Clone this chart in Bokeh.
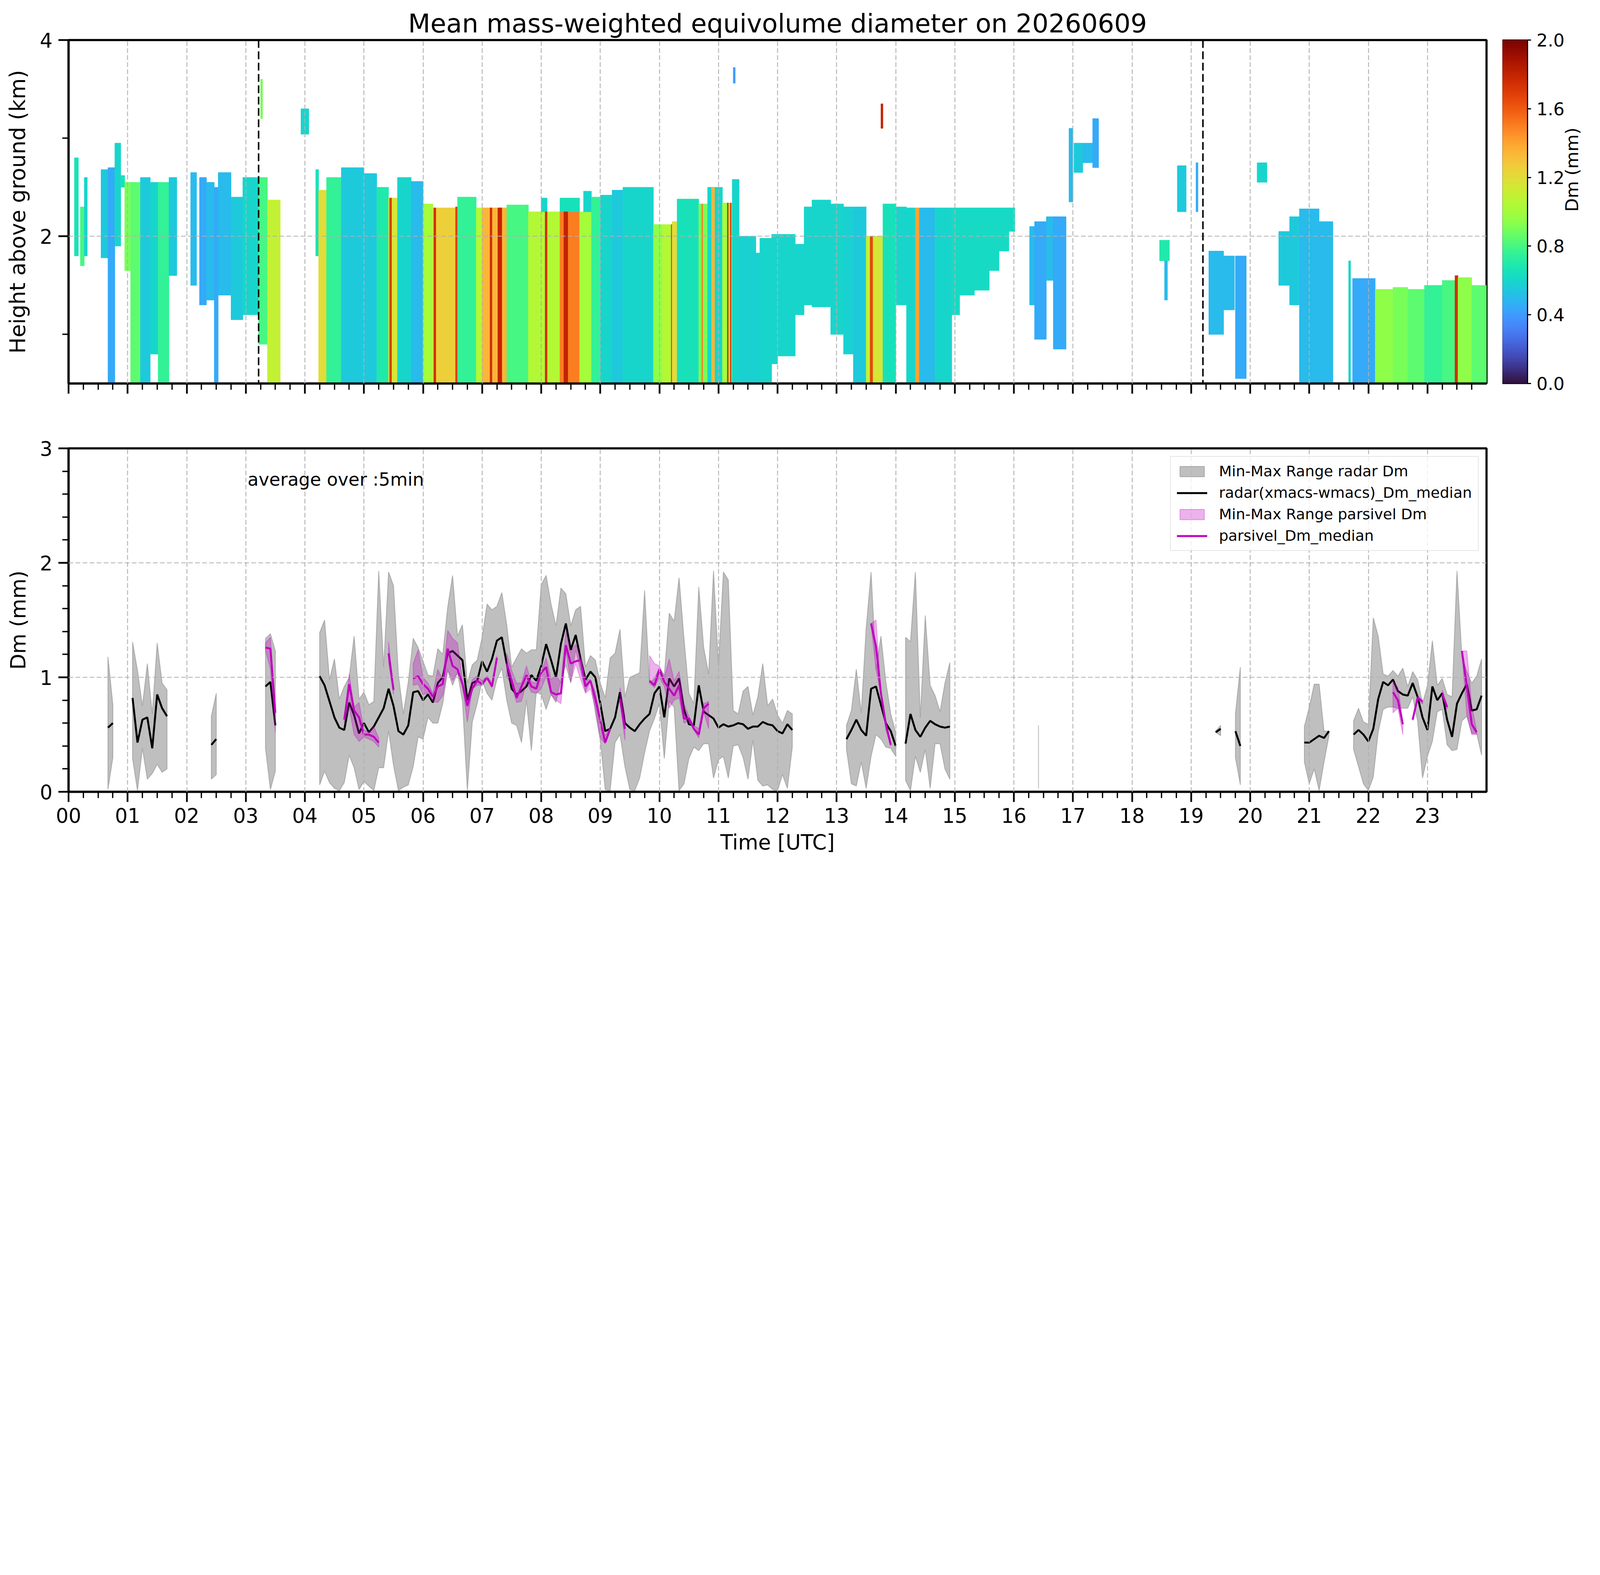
import math
import numpy as np
from bokeh.plotting import figure
from bokeh.layouts import column, row
from bokeh.models import (ColumnDataSource, FixedTicker, PrintfTickFormatter,
                          Legend, LegendItem, Label, Span)
from bokeh.palettes import Turbo256
from bokeh.transform import linear_cmap
from bokeh.embed import file_html
from bokeh.resources import INLINE

FONT = "DejaVu Sans"
S = 0.55  # css px per reference pixel


def px(v):
    return round(v * S, 1)


def ipx(v):
    return int(round(v * S))


def fs(v):
    return "%dpx" % round(v * S)


# ---------------- top panel: radar Dm echo blocks (minutes of day, km, mm)
echo_t0 = [6, 12, 16, 33, 40, 47, 53, 57, 63, 73,
           83, 91, 102, 124, 133, 140, 148, 152, 165, 177,
           193, 202, 195, 236, 251, 254, 262, 277, 300, 313,
           325, 326, 334, 348, 360, 370, 371, 393, 395, 414,
           420, 428, 436, 445, 467, 480, 484, 499, 499, 503,
           519, 523, 531, 540, 552, 563, 594, 603, 612, 613,
           618, 640, 643, 649, 653, 664, 669, 672, 674, 675,
           681, 698, 702, 714, 720, 738, 747, 755, 774, 787,
           797, 810, 814, 817, 825, 827, 840, 851, 860, 864,
           880, 897, 905, 920, 935, 945, 955, 976, 981, 993,
           1000, 1016, 1021, 1030, 1040, 1108, 1113, 1126, 1145, 1158,
           1173, 1185, 1207, 1229, 1240, 1250, 1270, 1300, 1304, 1327,
           1345, 1360, 1377, 1395, 1408, 1411, 1425]
echo_t1 = [10, 16, 19, 40, 47, 53, 57, 63, 73, 83,
           91, 102, 110, 130, 140, 148, 152, 165, 177, 193,
           202, 215, 197, 244, 254, 262, 277, 300, 313, 325,
           334, 328, 348, 360, 370, 394, 373, 395, 414, 420,
           445, 430, 440, 467, 499, 486, 486, 519, 519, 507,
           531, 531, 540, 552, 563, 594, 603, 612, 613, 618,
           640, 649, 644, 664, 656, 674, 670, 673, 681, 677,
           698, 702, 714, 720, 738, 747, 755, 774, 787, 797,
           810, 814, 817, 827, 827, 840, 851, 860, 864, 880,
           897, 905, 920, 935, 945, 955, 961, 981, 993, 1000,
           1013, 1020, 1030, 1040, 1046, 1118, 1116, 1135, 1147, 1173,
           1184, 1196, 1217, 1240, 1250, 1270, 1284, 1302, 1327, 1345,
           1360, 1377, 1395, 1408, 1411, 1425, 1440]
echo_base = [1.8, 1.7, 1.8, 1.78, 0.5, 1.9, 2.5, 1.65, 0.5, 0.5,
             0.8, 0.5, 1.6, 1.5, 1.3, 1.35, 0.5, 1.4, 1.15, 1.2,
             0.9, 0.5, 3.2, 3.04, 1.8, 0.5, 0.5, 0.5, 0.5, 0.5,
             0.5, 0.5, 0.5, 0.5, 0.5, 0.5, 0.5, 0.5, 0.5, 0.5,
             0.5, 0.5, 0.5, 0.5, 0.5, 2.25, 0.5, 0.5, 2.25, 0.5,
             0.5, 2.25, 0.5, 0.5, 0.5, 0.5, 0.5, 0.5, 0.5, 0.5,
             0.5, 0.5, 0.5, 0.5, 0.5, 0.5, 0.5, 0.5, 0.5, 3.56,
             0.5, 0.5, 0.5, 0.7, 0.78, 1.2, 1.3, 1.28, 1.0, 0.8,
             0.5, 0.5, 0.5, 0.5, 3.1, 0.5, 1.3, 0.5, 0.5, 0.5,
             0.5, 1.2, 1.4, 1.45, 1.65, 1.85, 2.05, 1.3, 0.95, 1.55,
             0.85, 2.35, 2.65, 2.75, 2.7, 1.75, 1.35, 2.25, 2.25, 1.0,
             1.25, 0.55, 2.55, 1.5, 1.3, 0.5, 0.5, 0.5, 0.5, 0.5,
             0.5, 0.5, 0.5, 0.5, 0.5, 0.5, 0.5]
echo_top = [2.8, 2.3, 2.6, 2.68, 2.7, 2.95, 2.62, 2.55, 2.55, 2.6,
            2.55, 2.55, 2.6, 2.65, 2.6, 2.55, 2.5, 2.65, 2.4, 2.6,
            2.6, 2.37, 3.6, 3.3, 2.68, 2.47, 2.6, 2.7, 2.64, 2.5,
            2.39, 2.39, 2.6, 2.56, 2.33, 2.29, 2.29, 2.3, 2.4, 2.29,
            2.29, 2.29, 2.29, 2.32, 2.25, 2.39, 2.25, 2.25, 2.39, 2.25,
            2.25, 2.46, 2.4, 2.42, 2.47, 2.5, 2.12, 2.12, 2.12, 2.15,
            2.38, 2.33, 2.33, 2.5, 2.5, 2.34, 2.34, 2.34, 2.58, 3.72,
            2.0, 1.83, 1.98, 2.02, 2.02, 1.92, 2.3, 2.37, 2.33, 2.3,
            2.3, 2.0, 2.0, 2.0, 3.35, 2.33, 2.3, 2.29, 2.29, 2.29,
            2.29, 2.29, 2.29, 2.29, 2.29, 2.29, 2.29, 2.1, 2.15, 2.2,
            2.2, 3.1, 2.95, 2.95, 3.2, 1.96, 1.75, 2.72, 2.75, 1.85,
            1.8, 1.8, 2.75, 2.05, 2.2, 2.28, 2.15, 1.75, 1.57, 1.46,
            1.48, 1.46, 1.5, 1.55, 1.6, 1.58, 1.5]
echo_dm = [0.65, 0.8, 0.6, 0.55, 0.45, 0.6, 0.65, 0.9, 0.85, 0.55,
           0.6, 0.75, 0.55, 0.5, 0.45, 0.5, 0.45, 0.5, 0.55, 0.6,
           0.8, 1.1, 0.9, 0.6, 0.65, 1.2, 0.75, 0.55, 0.55, 0.7,
           1.15, 1.7, 0.6, 0.5, 1.0, 1.25, 1.75, 1.7, 0.75, 1.05,
           1.35, 1.75, 1.8, 0.8, 1.05, 0.6, 1.75, 1.5, 0.65, 1.8,
           1.0, 0.6, 0.75, 0.6, 0.55, 0.6, 0.95, 1.05, 1.7, 1.2,
           0.65, 0.9, 1.5, 0.6, 1.35, 1.0, 1.75, 1.7, 0.6, 0.4,
           0.58, 0.58, 0.6, 0.6, 0.6, 0.6, 0.6, 0.6, 0.6, 0.58,
           0.55, 1.1, 1.65, 1.15, 1.8, 0.65, 0.6, 0.6, 1.4, 0.5,
           0.6, 0.62, 0.62, 0.62, 0.62, 0.62, 0.62, 0.5, 0.45, 0.5,
           0.45, 0.5, 0.55, 0.5, 0.45, 0.7, 0.5, 0.55, 0.45, 0.5,
           0.5, 0.45, 0.6, 0.55, 0.55, 0.5, 0.5, 0.6, 0.45, 0.95,
           0.9, 0.85, 0.75, 0.8, 1.75, 0.95, 0.85]
event_times = ["03:13", "19:12"]

# ---------------- bottom panel: 5-min statistics, one list per continuous run
radar_start = ["00:40", "01:05", "02:25", "03:20", "04:15", "13:10", "14:10", "16:25",
               "19:25", "19:45", "20:55", "21:45"]
radar_median = [
    [0.56, 0.60],
    [0.82, 0.43, 0.63, 0.65, 0.38, 0.85, 0.73, 0.66],
    [0.41, 0.46],
    [0.92, 0.96, 0.58],
    [1.01, 0.93, 0.79, 0.65, 0.56, 0.54, 0.78, 0.67, 0.51,
     0.60, 0.52, 0.57, 0.65, 0.73, 0.90, 0.75, 0.53, 0.50, 0.58, 0.87, 0.88,
     0.80, 0.85, 0.78, 0.95, 1.00, 1.21, 1.23, 1.19, 1.15, 0.80, 0.95, 0.97,
     1.14, 1.05, 1.16, 1.32, 1.35, 1.12, 0.90, 0.85, 0.88, 0.92, 1.02, 0.97,
     1.10, 1.29, 1.15, 1.00, 1.29, 1.47, 1.24, 1.37, 1.16, 0.98, 1.05, 1.00,
     0.77, 0.53, 0.55, 0.65, 0.87, 0.60, 0.56, 0.53, 0.59, 0.64, 0.68, 0.86,
     0.92, 0.65, 0.99, 0.92, 0.99, 0.72, 0.59, 0.58, 0.93, 0.70, 0.67, 0.64,
     0.56, 0.59, 0.57, 0.58, 0.60, 0.59, 0.55, 0.57, 0.57, 0.61, 0.59, 0.58,
     0.53, 0.51, 0.59, 0.54],
    [0.46, 0.54, 0.63, 0.54, 0.49, 0.90, 0.92, 0.76, 0.60, 0.53, 0.40],
    [0.42, 0.68, 0.54, 0.48, 0.56, 0.62, 0.59, 0.57, 0.56, 0.57],
    [None],
    [0.52, 0.55],
    [0.53, 0.40],
    [0.43, 0.43, 0.46, 0.49, 0.47, 0.53],
    [0.50, 0.54, 0.50,
     0.44, 0.55, 0.81, 0.96, 0.93, 0.98, 0.88, 0.85, 0.84, 0.95, 0.83, 0.65,
     0.54, 0.92, 0.80, 0.86, 0.63, 0.48, 0.77, 0.86, 0.94, 0.71, 0.72, 0.84],
]
radar_max = [
    [1.18, 0.76],
    [1.31, 1.06, 0.75, 1.12, 0.68, 1.30, 0.95, 0.89],
    [0.66, 0.86],
    [1.34, 1.38, 1.23],
    [1.39, 1.50, 0.98, 1.16, 0.81, 0.92, 1.00, 1.36, 0.81,
     0.87, 0.76, 0.79, 1.93, 1.09, 1.92, 1.80, 1.02, 0.68, 0.96, 1.34, 1.26,
     1.14, 1.02, 1.01, 1.25, 1.20, 1.61, 1.89, 1.36, 1.46, 0.95, 1.11, 1.15,
     1.35, 1.64, 1.59, 1.62, 1.74, 1.46, 1.09, 1.17, 1.25, 1.21, 1.24, 1.24,
     1.81, 1.89, 1.64, 1.45, 1.78, 1.73, 1.45, 1.59, 1.62, 1.09, 1.19, 1.15,
     0.95, 0.82, 1.17, 1.21, 1.42, 0.83, 1.00, 1.02, 1.04, 1.76, 0.95, 0.99,
     1.08, 1.02, 1.56, 1.49, 1.87, 1.34, 0.86, 0.77, 1.79, 1.26, 1.03, 1.93,
     1.10, 1.92, 1.85, 0.71, 0.68, 0.88, 0.92, 0.67, 0.83, 1.12, 0.75, 0.81,
     0.67, 0.60, 0.71, 0.68],
    [0.58, 0.71, 1.07, 0.69, 1.43, 1.92, 1.07, 1.36, 0.96, 0.68, 0.52],
    [1.35, 1.31, 1.92, 0.65, 1.54, 0.93, 0.84, 0.70, 0.95, 1.13],
    [0.58],
    [0.53, 0.58],
    [0.68, 1.09],
    [0.57, 0.74, 0.94, 0.94, 0.53, 0.53],
    [0.62, 0.73, 0.61,
     0.59, 1.52, 1.36, 1.03, 1.01, 1.06, 1.01, 1.08, 0.92, 1.05, 0.98, 0.77,
     0.93, 1.32, 0.93, 0.99, 0.85, 0.83, 1.93, 1.18, 1.05, 0.95, 1.01, 1.16],
]
radar_min = [
    [0.02, 0.30],
    [0.29, 0.01, 0.38, 0.11, 0.16, 0.24, 0.17, 0.20],
    [0.11, 0.15],
    [0.38, 0.02, 0.18],
    [0.06, 0.18, 0.08, 0.03, 0.01, 0.08, 0.32, 0.21, 0.02,
     0.09, 0.05, 0.01, 0.21, 0.21, 0.53, 0.23, 0.01, 0.04, 0.06, 0.22, 0.48,
     0.46, 0.65, 0.60, 0.60, 0.77, 1.06, 0.93, 1.04, 0.79, 0.01, 0.61, 0.77,
     0.97, 0.86, 0.80, 0.98, 1.08, 0.80, 0.60, 0.58, 0.43, 0.80, 0.36, 0.87,
     0.85, 0.72, 0.85, 0.78, 0.98, 1.11, 0.95, 1.24, 1.06, 0.87, 0.98, 0.69,
     0.45, 0.02, 0.01, 0.43, 0.50, 0.22, 0.02, 0.01, 0.12, 0.34, 0.53, 0.64,
     0.77, 0.29, 0.79, 0.74, 0.01, 0.07, 0.29, 0.39, 0.36, 0.42, 0.42, 0.12,
     0.28, 0.31, 0.12, 0.40, 0.41, 0.30, 0.11, 0.45, 0.10, 0.05, 0.06, 0.02,
     0.01, 0.15, 0.03, 0.39],
    [0.37, 0.07, 0.05, 0.26, 0.03, 0.31, 0.50, 0.46, 0.39, 0.38, 0.31],
    [0.10, 0.01, 0.31, 0.17, 0.37, 0.03, 0.42, 0.42, 0.20, 0.11],
    [0.03],
    [0.52, 0.49],
    [0.30, 0.06],
    [0.26, 0.07, 0.20, 0.01, 0.26, 0.49],
    [0.37, 0.22, 0.07,
     0.01, 0.13, 0.52, 0.72, 0.74, 0.74, 0.73, 0.73, 0.73, 0.83, 0.62, 0.12,
     0.31, 0.44, 0.70, 0.72, 0.41, 0.36, 0.37, 0.62, 0.66, 0.51, 0.51, 0.32],
]

pars_start = ["03:20", "04:40", "05:25", "05:50", "07:25", "09:20", "09:50", "13:35",
              "22:25", "22:45", "23:15", "23:35"]
pars_median = [
    [1.26, 1.25, 0.69],
    [0.63, 0.94, 0.71, 0.65, 0.50, 0.50, 0.48, 0.43],
    [1.21, 0.89],
    [0.99, 1.01, 0.94, 0.90, 0.83, 0.92, 0.94, 1.25, 1.10, 1.07, 0.94, 0.75,
     0.90, 0.97, 0.94, 1.00, 0.92, 1.17],
    [1.12, 0.97, 0.82, 0.92, 1.02, 0.92, 0.90,
     1.04, 1.09, 0.87, 0.85, 0.86, 1.28, 1.12, 1.14, 1.15, 0.92, 0.97, 0.81,
     0.62, 0.43, 0.55],
    [0.81, 0.55],
    [0.97, 0.93, 1.07, 0.96, 0.90, 0.84, 0.93, 0.64, 0.64, 0.55, 0.50, 0.73, 0.77],
    [1.47, 1.27, 0.86, 0.59, 0.41],
    [0.87, 0.80, 0.59],
    [0.63, 0.82, 0.79],
    [0.85, 0.74],
    [1.23, 0.92, 0.59, 0.52],
]
pars_max = [
    [1.30, 1.35, 0.72],
    [0.65, 1.03, 0.74, 0.78, 0.54, 0.52, 0.57, 0.47],
    [1.31, 0.90],
    [1.12, 1.24, 1.00, 0.95, 0.86, 1.07, 0.98, 1.41, 1.34, 1.30, 0.98, 0.82,
     0.98, 1.01, 0.97, 1.01, 0.95, 1.19],
    [1.21, 1.06, 0.95, 0.95, 1.10, 0.96, 0.95,
     1.05, 1.17, 0.98, 1.02, 0.95, 1.40, 1.22, 1.29, 1.17, 0.98, 0.98, 0.87,
     0.66, 0.49, 0.56],
    [0.91, 0.67],
    [1.19, 1.12, 1.10, 1.00, 1.16, 0.97, 1.05, 0.77, 0.66, 0.58, 0.55, 0.77, 0.79],
    [1.47, 1.50, 0.88, 0.62, 0.42],
    [0.97, 0.91, 0.62],
    [0.64, 0.84, 0.80],
    [0.89, 0.76],
    [1.23, 1.23, 0.75, 0.53],
]
pars_min = [
    [1.24, 1.07, 0.52],
    [0.60, 0.74, 0.50, 0.44, 0.48, 0.46, 0.44, 0.39],
    [1.13, 0.85],
    [0.93, 0.94, 0.85, 0.86, 0.79, 0.78, 0.84, 1.07, 0.97, 1.04, 0.93, 0.61,
     0.90, 0.93, 0.93, 0.98, 0.91, 1.16],
    [1.01, 0.93, 0.78, 0.79, 0.96, 0.87, 0.86,
     0.90, 1.01, 0.85, 0.80, 0.77, 1.24, 0.96, 1.12, 0.98, 0.86, 0.90, 0.73,
     0.47, 0.42, 0.53],
    [0.79, 0.45],
    [0.95, 0.91, 1.00, 0.92, 0.73, 0.80, 0.82, 0.60, 0.62, 0.54, 0.47, 0.70, 0.55],
    [1.46, 1.07, 0.84, 0.54, 0.40],
    [0.69, 0.73, 0.50],
    [0.62, 0.80, 0.77],
    [0.84, 0.72],
    [1.22, 0.67, 0.50, 0.50],
]


def hm(s):
    h, m = s.split(":")
    return int(h) + int(m) / 60.0


def band_polys(starts, lo, hi):
    xs, ys = [], []
    for s, l, h in zip(starts, lo, hi):
        t = [hm(s) + 5.0 * i / 60.0 for i in range(len(l))]
        xs.append(t + t[::-1])
        ys.append(list(h) + list(l)[::-1])
    return xs, ys


def median_lines(starts, med):
    xs, ys = [], []
    for s, m in zip(starts, med):
        pts = [(hm(s) + 5.0 * i / 60.0, v) for i, v in enumerate(m) if v is not None]
        if pts:
            xs.append([p[0] for p in pts])
            ys.append([p[1] for p in pts])
    return xs, ys


def style(p, label_size):
    p.outline_line_color = "black"
    p.outline_line_width = px(10)
    for ax in p.axis:
        ax.axis_line_color = "black"
        ax.axis_line_width = px(10)
        ax.major_tick_line_color = "black"
        ax.major_tick_line_width = px(8)
        ax.major_tick_in = 0
        ax.major_tick_out = ipx(48)
        ax.minor_tick_line_color = "black"
        ax.minor_tick_line_width = px(6)
        ax.minor_tick_in = 0
        ax.minor_tick_out = ipx(30)
        ax.major_label_text_font = FONT
        ax.major_label_text_font_size = fs(92)
        ax.major_label_text_color = "black"
        ax.major_label_standoff = ipx(28)
        ax.axis_label_text_font = FONT
        ax.axis_label_text_font_size = fs(label_size)
        ax.axis_label_text_font_style = "normal"
        ax.axis_label_text_color = "black"
        ax.axis_label_standoff = ipx(40)
    for g in p.grid:
        g.grid_line_color = "#b0b0b0"
        g.grid_line_width = px(4)
        g.grid_line_dash = "12 6"
        g.level = "annotation"


hour_ticks = list(range(24))
quarter_ticks = [i / 4.0 for i in range(97) if i % 4]

FW = ipx(6600)
FH = ipx(1599)

# ---------------- top panel
top = figure(frame_width=FW, frame_height=FH, x_range=(0, 24), y_range=(0.5, 4),
             output_backend="svg", toolbar_location=None,
             min_border_left=ipx(318), min_border_right=ipx(74),
             min_border_top=ipx(185), min_border_bottom=ipx(150),
             title="Mean mass-weighted equivolume diameter on 20260609")
top.title.text_font = FONT
top.title.text_font_size = fs(120)
top.title.text_font_style = "normal"
top.title.text_color = "black"
top.title.align = "center"
top.title.standoff = ipx(12)

echo = ColumnDataSource(dict(left=[t / 60.0 for t in echo_t0], right=[t / 60.0 for t in echo_t1],
                             bottom=echo_base, top=echo_top, dm=echo_dm))
cmap = linear_cmap("dm", Turbo256, 0, 2)
top.quad(left="left", right="right", bottom="bottom", top="top", source=echo,
         fill_color=cmap, line_color=cmap, line_width=1)

for et in event_times:
    top.add_layout(Span(location=hm(et), dimension="height", line_color="black",
                        line_width=px(7), line_dash="20 9"))

top.xaxis.ticker = FixedTicker(ticks=hour_ticks, minor_ticks=quarter_ticks)
top.xaxis.major_label_overrides = {h: "" for h in hour_ticks}
top.yaxis.ticker = FixedTicker(ticks=[2, 4], minor_ticks=[1, 3])
top.yaxis.axis_label = "Height above ground (km)"
style(top, 100)
top.xaxis.major_label_standoff = 0

# ---------------- colour bar as its own narrow figure
cb = figure(frame_width=ipx(117), frame_height=FH, x_range=(0, 1), y_range=(0, 2),
            output_backend="svg", toolbar_location=None, x_axis_location=None,
            y_axis_location="right", min_border_left=0, min_border_right=10,
            min_border_top=ipx(185), min_border_bottom=ipx(150))
lev = np.linspace(0, 2, 257)
cb.quad(left=0, right=1, bottom=lev[:-1], top=lev[1:], fill_color=list(Turbo256),
        line_color=list(Turbo256), line_width=1)
cb.grid.visible = False
cb.outline_line_color = "black"
cb.outline_line_width = px(5)
cb.yaxis.ticker = FixedTicker(ticks=[0, 0.4, 0.8, 1.2, 1.6, 2.0])
cb.yaxis.formatter = PrintfTickFormatter(format="%.1f")
cb.yaxis.axis_label = "Dm (mm)"
cb.yaxis.axis_label_orientation = math.pi / 2
cb.yaxis.axis_line_width = px(5)
cb.yaxis.major_tick_line_width = px(5)
cb.yaxis.major_tick_in = 0
cb.yaxis.major_tick_out = ipx(17)
cb.yaxis.major_label_text_font = FONT
cb.yaxis.major_label_text_font_size = fs(81)
cb.yaxis.major_label_text_color = "black"
cb.yaxis.major_label_standoff = ipx(26)
cb.yaxis.axis_label_text_font = FONT
cb.yaxis.axis_label_text_font_size = fs(81)
cb.yaxis.axis_label_text_font_style = "normal"
cb.yaxis.axis_label_text_color = "black"
cb.yaxis.axis_label_standoff = ipx(30)

# ---------------- bottom panel
bot = figure(frame_width=FW, frame_height=ipx(1598), x_range=(0, 24), y_range=(0, 3),
             output_backend="svg", toolbar_location=None,
             min_border_left=ipx(318), min_border_right=ipx(74),
             min_border_top=ipx(152), min_border_bottom=20)

gx, gy = band_polys(radar_start, radar_min, radar_max)
r_gray = bot.patches(gx, gy, fill_color="gray", fill_alpha=0.5,
                     line_color="gray", line_alpha=0.5, line_width=px(4))
mx, my = median_lines(radar_start, radar_median)
r_black = bot.multi_line(mx, my, line_color="black", line_width=px(9))
qxp, qyp = band_polys(pars_start, pars_min, pars_max)
r_pink = bot.patches(qxp, qyp, fill_color="#bf00bf", fill_alpha=0.3,
                     line_color="#bf00bf", line_alpha=0.3, line_width=px(4))
qx, qy = median_lines(pars_start, pars_median)
r_mag = bot.multi_line(qx, qy, line_color="#bf00bf", line_width=px(9))

bot.add_layout(Label(x=3.03, y=2.73, text="average over :5min", text_font=FONT,
                     text_font_size=fs(83), text_color="black", text_baseline="alphabetic"))

legend = Legend(items=[
    LegendItem(label="Min-Max Range radar Dm", renderers=[r_gray]),
    LegendItem(label="radar(xmacs-wmacs)_Dm_median", renderers=[r_black]),
    LegendItem(label="Min-Max Range parsivel Dm", renderers=[r_pink]),
    LegendItem(label="parsivel_Dm_median", renderers=[r_mag]),
], location="top_right")
legend.label_text_font = FONT
legend.label_text_font_size = fs(69)
legend.label_text_color = "black"
legend.glyph_width = ipx(142)
legend.glyph_height = ipx(60)
legend.label_standoff = ipx(55)
legend.spacing = ipx(20)
legend.padding = ipx(28)
legend.margin = ipx(37)
legend.border_line_color = "#cccccc"
legend.border_line_width = px(5)
legend.background_fill_alpha = 0.8
bot.add_layout(legend)

bot.xaxis.ticker = FixedTicker(ticks=hour_ticks, minor_ticks=quarter_ticks)
bot.xaxis.formatter = PrintfTickFormatter(format="%02d")
bot.xaxis.axis_label = "Time [UTC]"
bot.yaxis.ticker = FixedTicker(ticks=[0, 1, 2, 3],
                               minor_ticks=[0.2, 0.4, 0.6, 0.8, 1.2, 1.4, 1.6, 1.8, 2.2, 2.4, 2.6, 2.8])
bot.yaxis.axis_label = "Dm (mm)"
style(bot, 96)
bot.xaxis.axis_label_standoff = ipx(30)

layout = column(row(top, cb), bot)
open("out.html", "w").write(file_html(layout, INLINE))
